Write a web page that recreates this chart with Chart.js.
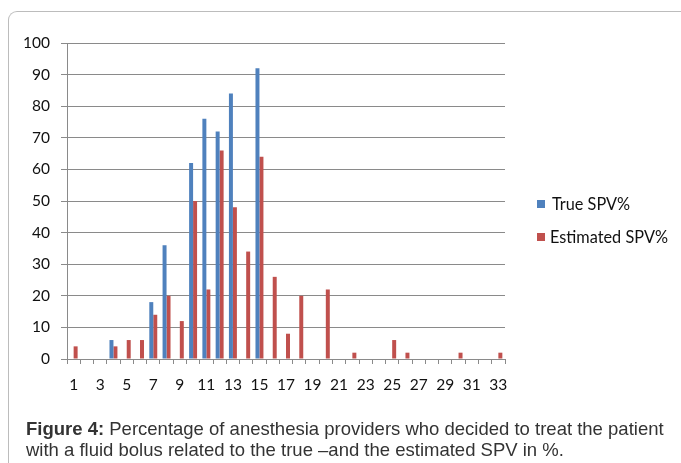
<!DOCTYPE html>
<html><head><meta charset="utf-8">
<script src="https://cdn.jsdelivr.net/npm/chart.js@4"></script>
<style>
html,body{margin:0;padding:0;background:#fff;}
#wrap{position:relative;width:681px;height:463px;overflow:hidden;}
#frame{position:absolute;left:8px;top:11px;width:700px;height:500px;border-top:1.5px solid #bcbcbc;border-left:1.5px solid #bcbcbc;border-top-left-radius:9px;}
canvas{position:absolute;left:0;top:0;}
.leg{position:absolute;font-family:Lato,"Open Sans",sans-serif;font-size:16.3px;color:#111;white-space:nowrap;line-height:1;}
.leg i{position:absolute;width:8px;height:8px;}
#cap{position:absolute;left:26px;top:418px;font-family:"Liberation Sans",Arial,sans-serif;font-size:18.5px;line-height:21px;color:#333;white-space:nowrap;}
</style></head>
<body><div id="wrap">
<div id="frame"></div>
<canvas id="c" width="681" height="463"></canvas>
<div class="leg" id="l1" style="left:537px;top:196px;"><i style="left:0;top:4px;background:#4F81BD"></i><span style="margin-left:15px">True SPV%</span></div>
<div class="leg" id="l2" style="left:537px;top:229px;"><i style="left:0;top:4px;background:#C0504D"></i><span style="margin-left:13px">Estimated SPV%</span></div>
<div id="cap"><b>Figure 4:</b> Percentage of anesthesia providers who decided to treat the patient<br>with a fluid bolus related to the true –and the estimated SPV in %.</div>
</div>
<script>
const categories = ["1","2","3","4","5","6","7","8","9","10","11","12","13","14","15","16","17","18","19","20","21","22","23","24","25","26","27","28","29","30","31","32","33"];
const trueSPV = [0,0,0,6,0,0,18,36,0,62,76,72,84,0,92,0,0,0,0,0,0,0,0,0,0,0,0,0,0,0,0,0,0];
const estimatedSPV = [4,0,0,4,6,6,14,20,12,50,22,66,48,34,64,26,8,20,0,22,0,2,0,0,6,2,0,0,0,2,0,0,2];
const yTicks = [0,10,20,30,40,50,60,70,80,90,100];
const seriesNames = ["True SPV%","Estimated SPV%"];

const tickFont = {family:"Lato, 'Open Sans', sans-serif", size:15.5};
new Chart(document.getElementById('c'), {
  type:'bar',
  data:{labels:categories, datasets:[
    {label:seriesNames[0], data:trueSPV, backgroundColor:'#4F81BD', categoryPercentage:0.6, barPercentage:1},
    {label:seriesNames[1], data:estimatedSPV, backgroundColor:'#C0504D', categoryPercentage:0.6, barPercentage:1}
  ]},
  options:{
    responsive:false, animation:false, devicePixelRatio:1,
    layout:{padding:{left:0, top:43, right:176, bottom:64}},
    plugins:{legend:{display:false}, tooltip:{enabled:false}},
    scales:{
      x:{
        offset:true,
        grid:{offset:true, drawOnChartArea:false, tickLength:5, color:'#8a8a8a'},
        border:{color:'#8a8a8a'},
        ticks:{autoSkip:false, maxRotation:0, padding:12, color:'#111', font:tickFont,
          callback:function(v,i){ return i % 2 === 0 ? categories[i] : ''; }},
        afterFit:function(s){ s.height = 40; }
      },
      y:{
        min:0, max:100,
        afterBuildTicks:function(s){ s.ticks = yTicks.map(v=>({value:v})); },
        grid:{tickLength:6, color:'#8a8a8a'},
        border:{color:'#8a8a8a'},
        ticks:{padding:11, color:'#111', font:tickFont},
        afterFit:function(s){ s.width = 67; }
      }
    }
  }
});
</script>
</body></html>
